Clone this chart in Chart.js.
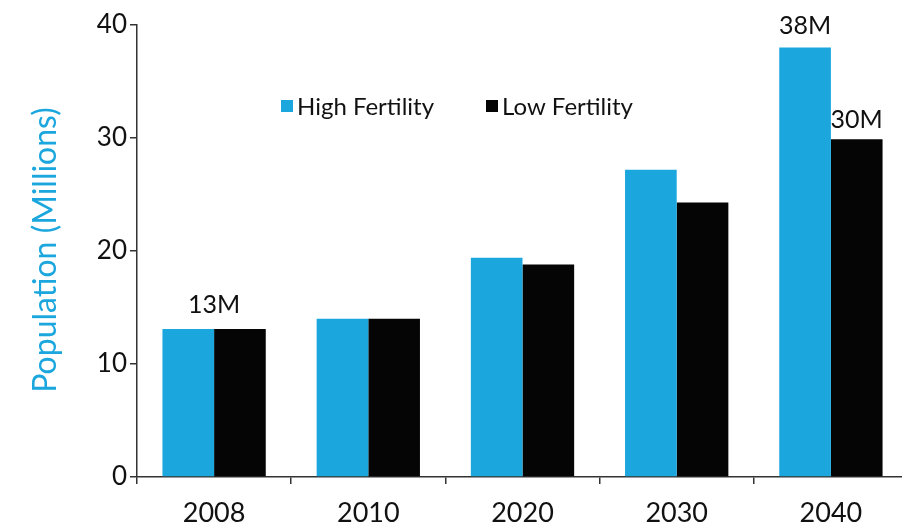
<!DOCTYPE html>
<html>
<head>
<meta charset="utf-8">
<script src="https://cdn.jsdelivr.net/npm/chart.js@4"></script>
<style>
  html, body { margin: 0; padding: 0; background: #fff; overflow: hidden; }
  #wrap { width: 910px; height: 527px; position: relative; }
</style>
</head>
<body>
<div id="wrap"><canvas id="c"></canvas></div>
<script>
const categories = ['2008', '2010', '2020', '2030', '2040'];
const highFertility = [13.1, 14.0, 19.4, 27.2, 38.0];
const lowFertility = [13.1, 14.0, 18.8, 24.3, 29.9];
const highLabels = ['', '', '', '', '38M'];
const lowLabels = ['', '', '', '', '30M'];
const groupLabels = ['13M', '', '', '', ''];
const seriesNames = ['High Fertility', 'Low Fertility'];
const yTicks = [0, 10, 20, 30, 40];
const yTitle = 'Population (Millions)';

const BLUE = '#1BA7DE';
const BLACK = '#050505';
const FONT = 'Lato, "Open Sans", "DejaVu Sans", sans-serif';

const labelPlugin = {
  id: 'labels',
  afterDatasetsDraw(chart) {
    const ctx = chart.ctx;
    ctx.save();
    ctx.fillStyle = '#111';
    ctx.font = '25px ' + FONT;
    ctx.textAlign = 'center';
    ctx.textBaseline = 'alphabetic';
    const lists = [highLabels, lowLabels];
    const gaps = [14, 11];
    lists.forEach((arr, di) => {
      const meta = chart.getDatasetMeta(di);
      arr.forEach((t, i) => {
        if (!t) return;
        const el = meta.data[i];
        ctx.fillText(t, el.x, el.y - gaps[di]);
      });
    });
    const m0 = chart.getDatasetMeta(0), m1 = chart.getDatasetMeta(1);
    groupLabels.forEach((t, i) => {
      if (!t) return;
      const x = (m0.data[i].x + m1.data[i].x) / 2;
      const y = Math.min(m0.data[i].y, m1.data[i].y);
      ctx.fillText(t, x, y - 16);
    });
    // legend
    ctx.font = '24px ' + FONT;
    ctx.textAlign = 'left';
    ctx.textBaseline = 'middle';
    const legendY = 106;
    const items = [{x: 281, c: BLUE}, {x: 486, c: BLACK}];
    items.forEach((it, i) => {
      ctx.fillStyle = it.c;
      ctx.fillRect(it.x, legendY - 6, 12, 12);
      ctx.fillStyle = '#111';
      ctx.fillText(seriesNames[i], it.x + 16, legendY + 1);
    });
    // y title
    ctx.save();
    ctx.translate(46, 250);
    ctx.rotate(-Math.PI / 2);
    ctx.textAlign = 'center';
    ctx.textBaseline = 'middle';
    ctx.fillStyle = BLUE;
    ctx.font = '32px ' + FONT;
    ctx.fillText(yTitle, 0, 0);
    ctx.restore();
    ctx.restore();
  }
};

new Chart(document.getElementById('c'), {
  type: 'bar',
  data: {
    labels: categories,
    datasets: [
      { label: seriesNames[0], data: highFertility, backgroundColor: BLUE, borderWidth: 0, categoryPercentage: 0.67, barPercentage: 1.0 },
      { label: seriesNames[1], data: lowFertility, backgroundColor: BLACK, borderWidth: 0, categoryPercentage: 0.67, barPercentage: 1.0 }
    ]
  },
  options: {
    responsive: true,
    maintainAspectRatio: false,
    animation: false,
    layout: { padding: { top: 25, right: 2, left: 0, bottom: 0 } },
    plugins: {
      legend: { display: false },
      tooltip: { enabled: false }
    },
    scales: {
      x: {
        grid: { offset: true, drawOnChartArea: false, drawTicks: true, tickLength: 7, color: '#333', lineWidth: 1.5 },
        border: { color: '#333', width: 1.5 },
        ticks: { color: '#111', font: { family: FONT, size: 27 }, padding: 13 },
        afterFit(scale) { scale.height = 50; }
      },
      y: {
        min: 0, max: 40,
        afterBuildTicks(scale) { scale.ticks = yTicks.map(v => ({ value: v })); },
        grid: { drawOnChartArea: false, drawTicks: true, tickLength: 7, color: '#333', lineWidth: 1.5 },
        border: { color: '#333', width: 1.5 },
        ticks: { color: '#111', font: { family: FONT, size: 26 }, padding: 3 },
        afterFit(scale) { scale.width = 137; }
      }
    }
  },
  plugins: [labelPlugin]
});
</script>
</body>
</html>
